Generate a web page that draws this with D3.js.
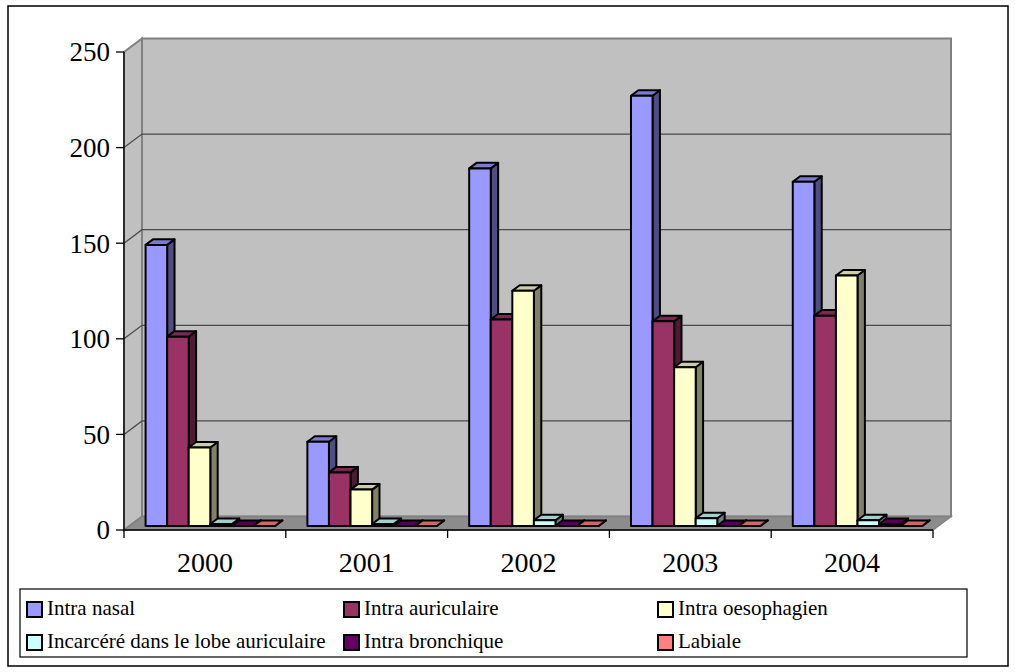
<!DOCTYPE html>
<html>
<head>
<meta charset="utf-8">
<script src="https://cdn.jsdelivr.net/npm/d3@7"></script>
<style>
  body { margin: 0; background: #fff; }
  svg { display: block; }
</style>
</head>
<body>
<script>
const years = ["2000", "2001", "2002", "2003", "2004"];
const seriesNames = [
  "Intra nasal",
  "Intra auriculaire",
  "Intra oesophagien",
  "Incarcéré dans le lobe auriculaire",
  "Intra bronchique",
  "Labiale",
];
const seriesColors = ["#9999FF", "#993366", "#FFFFCC", "#CCFFFF", "#660066", "#FF8080"];
// values per series, one entry per year
const intraNasal = [147, 44, 187, 225, 180];
const intraAuriculaire = [99, 28, 108, 107, 110];
const intraOesophagien = [41, 19, 123, 83, 131];
const incarcere = [1, 1, 3, 4, 3];
const intraBronchique = [0, 0, 0, 0, 1];
const labiale = [0, 0, 0, 0, 0];
const yTicks = [0, 50, 100, 150, 200, 250];

const allSeries = [intraNasal, intraAuriculaire, intraOesophagien, incarcere, intraBronchique, labiale];
const serif = "'Liberation Serif', 'Times New Roman', serif";

const width = 1015, height = 672;
const svg = d3.select("body").append("svg").attr("width", width).attr("height", height);

// outer frame
svg.append("rect").attr("x", 8).attr("y", 6).attr("width", 1000).attr("height", 660)
  .attr("fill", "#fff").attr("stroke", "#000").attr("stroke-width", 1.5);

const x = d3.scaleBand().domain(years).range([124, 933]).paddingInner(0).paddingOuter(0);
const xs = d3.scaleBand().domain(d3.range(seriesNames.length))
  .range([0, x.bandwidth()]).paddingInner(0).paddingOuter(0.75);
const y = d3.scaleLinear().domain([0, 250]).range([530, 52]);

const depthX = 18, depthY = 13.5;
function proj(px, v, z) {
  return [px + z * depthX, y(v) - z * depthY];
}
const line = d3.line();

// side wall
const x0 = x.range()[0], x1 = x.range()[1];
svg.append("path")
  .attr("d", line([proj(x0, 250, 0), proj(x0, 250, 1), proj(x0, 0, 1), proj(x0, 0, 0)]) + "Z")
  .attr("fill", "#C0C0C0").attr("stroke", "#808080").attr("stroke-width", 2);
// back wall
svg.append("path")
  .attr("d", line([proj(x0, 250, 1), proj(x1, 250, 1), proj(x1, 0, 1), proj(x0, 0, 1)]) + "Z")
  .attr("fill", "#C0C0C0").attr("stroke", "#808080").attr("stroke-width", 2);
// floor
svg.append("path")
  .attr("d", line([proj(x0, 0, 0), proj(x0, 0, 1), proj(x1, 0, 1), proj(x1, 0, 0)]) + "Z")
  .attr("fill", "#8C8C8C").attr("stroke", "#808080").attr("stroke-width", 1.5);

// gridlines
const grid = svg.append("g").attr("stroke", "#4a4a4a").attr("stroke-width", 1.3).attr("fill", "none");
yTicks.filter(t => t > 0 && t < 250).forEach(t => {
  grid.append("path").attr("d", line([proj(x0, t, 0), proj(x0, t, 1), proj(x1, t, 1)]));
});

// bars
const zFront = 0.3, zBack = 0.71;
const bars = [];
years.forEach((yr, i) => {
  seriesNames.forEach((name, j) => {
    bars.push({ year: yr, s: j, v: allSeries[j][i] });
  });
});
const barG = svg.append("g").attr("stroke", "#000").attr("stroke-width", 2).attr("stroke-linejoin", "round");
bars.forEach(d => {
  const left = x(d.year) + xs(d.s);
  const right = left + xs.bandwidth();
  const c = d3.color(seriesColors[d.s]);
  const fl = proj(left, d.v, zFront), fr = proj(right, d.v, zFront);
  const bl = proj(left, d.v, zBack), br = proj(right, d.v, zBack);
  const fl0 = proj(left, 0, zFront), fr0 = proj(right, 0, zFront), br0 = proj(right, 0, zBack);
  // side face
  barG.append("path").attr("d", line([fr, br, br0, fr0]) + "Z").attr("fill", c.darker(1.9));
  // top face
  barG.append("path").attr("d", line([fl, bl, br, fr]) + "Z").attr("fill", c.darker(0.6));
  // front face
  barG.append("path").attr("d", line([fl, fr, fr0, fl0]) + "Z").attr("fill", c);
});

// axes
const axisG = svg.append("g").attr("stroke", "#000").attr("stroke-width", 1.3);
axisG.append("line").attr("x1", x0).attr("x2", x0).attr("y1", y(250)).attr("y2", y(0));
axisG.append("line").attr("x1", x0).attr("x2", x1).attr("y1", y(0)).attr("y2", y(0));
yTicks.forEach(t => {
  axisG.append("line").attr("x1", x0 - 8).attr("x2", x0).attr("y1", y(t)).attr("y2", y(t));
});
years.concat(["end"]).forEach(yr => {
  const px = yr === "end" ? x1 : x(yr);
  axisG.append("line").attr("x1", px).attr("x2", px).attr("y1", y(0)).attr("y2", y(0) + 8);
});

svg.append("g").selectAll("text").data(yTicks).join("text")
  .attr("x", 110).attr("y", d => y(d)).attr("dy", "0.35em")
  .attr("text-anchor", "end").attr("font-family", serif).attr("font-size", 27).attr("fill", "#000")
  .text(d => d);

svg.append("g").selectAll("text").data(years).join("text")
  .attr("x", d => x(d) + x.bandwidth() / 2).attr("y", 572)
  .attr("text-anchor", "middle").attr("font-family", serif).attr("font-size", 28).attr("fill", "#000")
  .text(d => d);

// legend
svg.append("rect").attr("x", 20).attr("y", 589).attr("width", 947).attr("height", 68)
  .attr("fill", "#fff").attr("stroke", "#000").attr("stroke-width", 1.2);
const legCols = [26, 343, 657];
const legRows = [615, 648];
const leg = svg.append("g").selectAll("g").data(seriesNames).join("g")
  .attr("transform", (d, i) => `translate(${legCols[i % 3]},${legRows[Math.floor(i / 3)]})`);
leg.append("rect").attr("x", 1).attr("y", -13).attr("width", 15).attr("height", 15)
  .attr("fill", (d, i) => seriesColors[i]).attr("stroke", "#000").attr("stroke-width", 2);
leg.append("text").attr("x", 21).attr("y", 0).attr("font-family", serif).attr("font-size", 21).attr("fill", "#000")
  .text(d => d);
</script>
</body>
</html>
